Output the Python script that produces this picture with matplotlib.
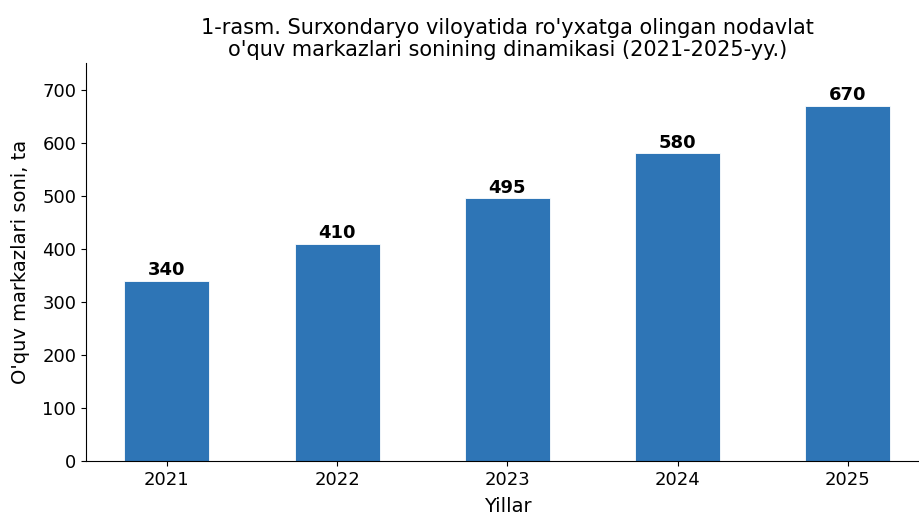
import matplotlib.pyplot as plt

# Ma'lumotlar
years = ['2021', '2022', '2023', '2024', '2025']
counts = [340, 410, 495, 580, 670]

fig = plt.figure(figsize=(9.19, 5.16), dpi=100)
ax = fig.add_axes([0.0936, 0.1066, 0.917, 0.7713])

bars = ax.bar(years, counts, width=0.5, color='#2E75B6', edgecolor='white', linewidth=0.6)

# Ustun ustidagi qiymatlar
for bar, val in zip(bars, counts):
    ax.text(bar.get_x() + bar.get_width() / 2, val + 3, str(val),
            ha='center', va='bottom', fontsize=13, fontweight='bold')

ax.set_ylim(0, max(counts) * 1.12)
ax.set_xlim(-0.475, 4.475)
ax.set_title("1-rasm. Surxondaryo viloyatida ro'yxatga olingan nodavlat\n"
             "o'quv markazlari sonining dinamikasi (2021-2025-yy.)", fontsize=15,
             linespacing=1.1, pad=5)
ax.set_xlabel('Yillar', fontsize=14, labelpad=6)
ax.set_ylabel("O'quv markazlari soni, ta", fontsize=14, labelpad=9)
ax.tick_params(labelsize=13)
ax.spines['top'].set_visible(False)
ax.spines['right'].set_visible(False)

fig.savefig('out.png', dpi=100)
